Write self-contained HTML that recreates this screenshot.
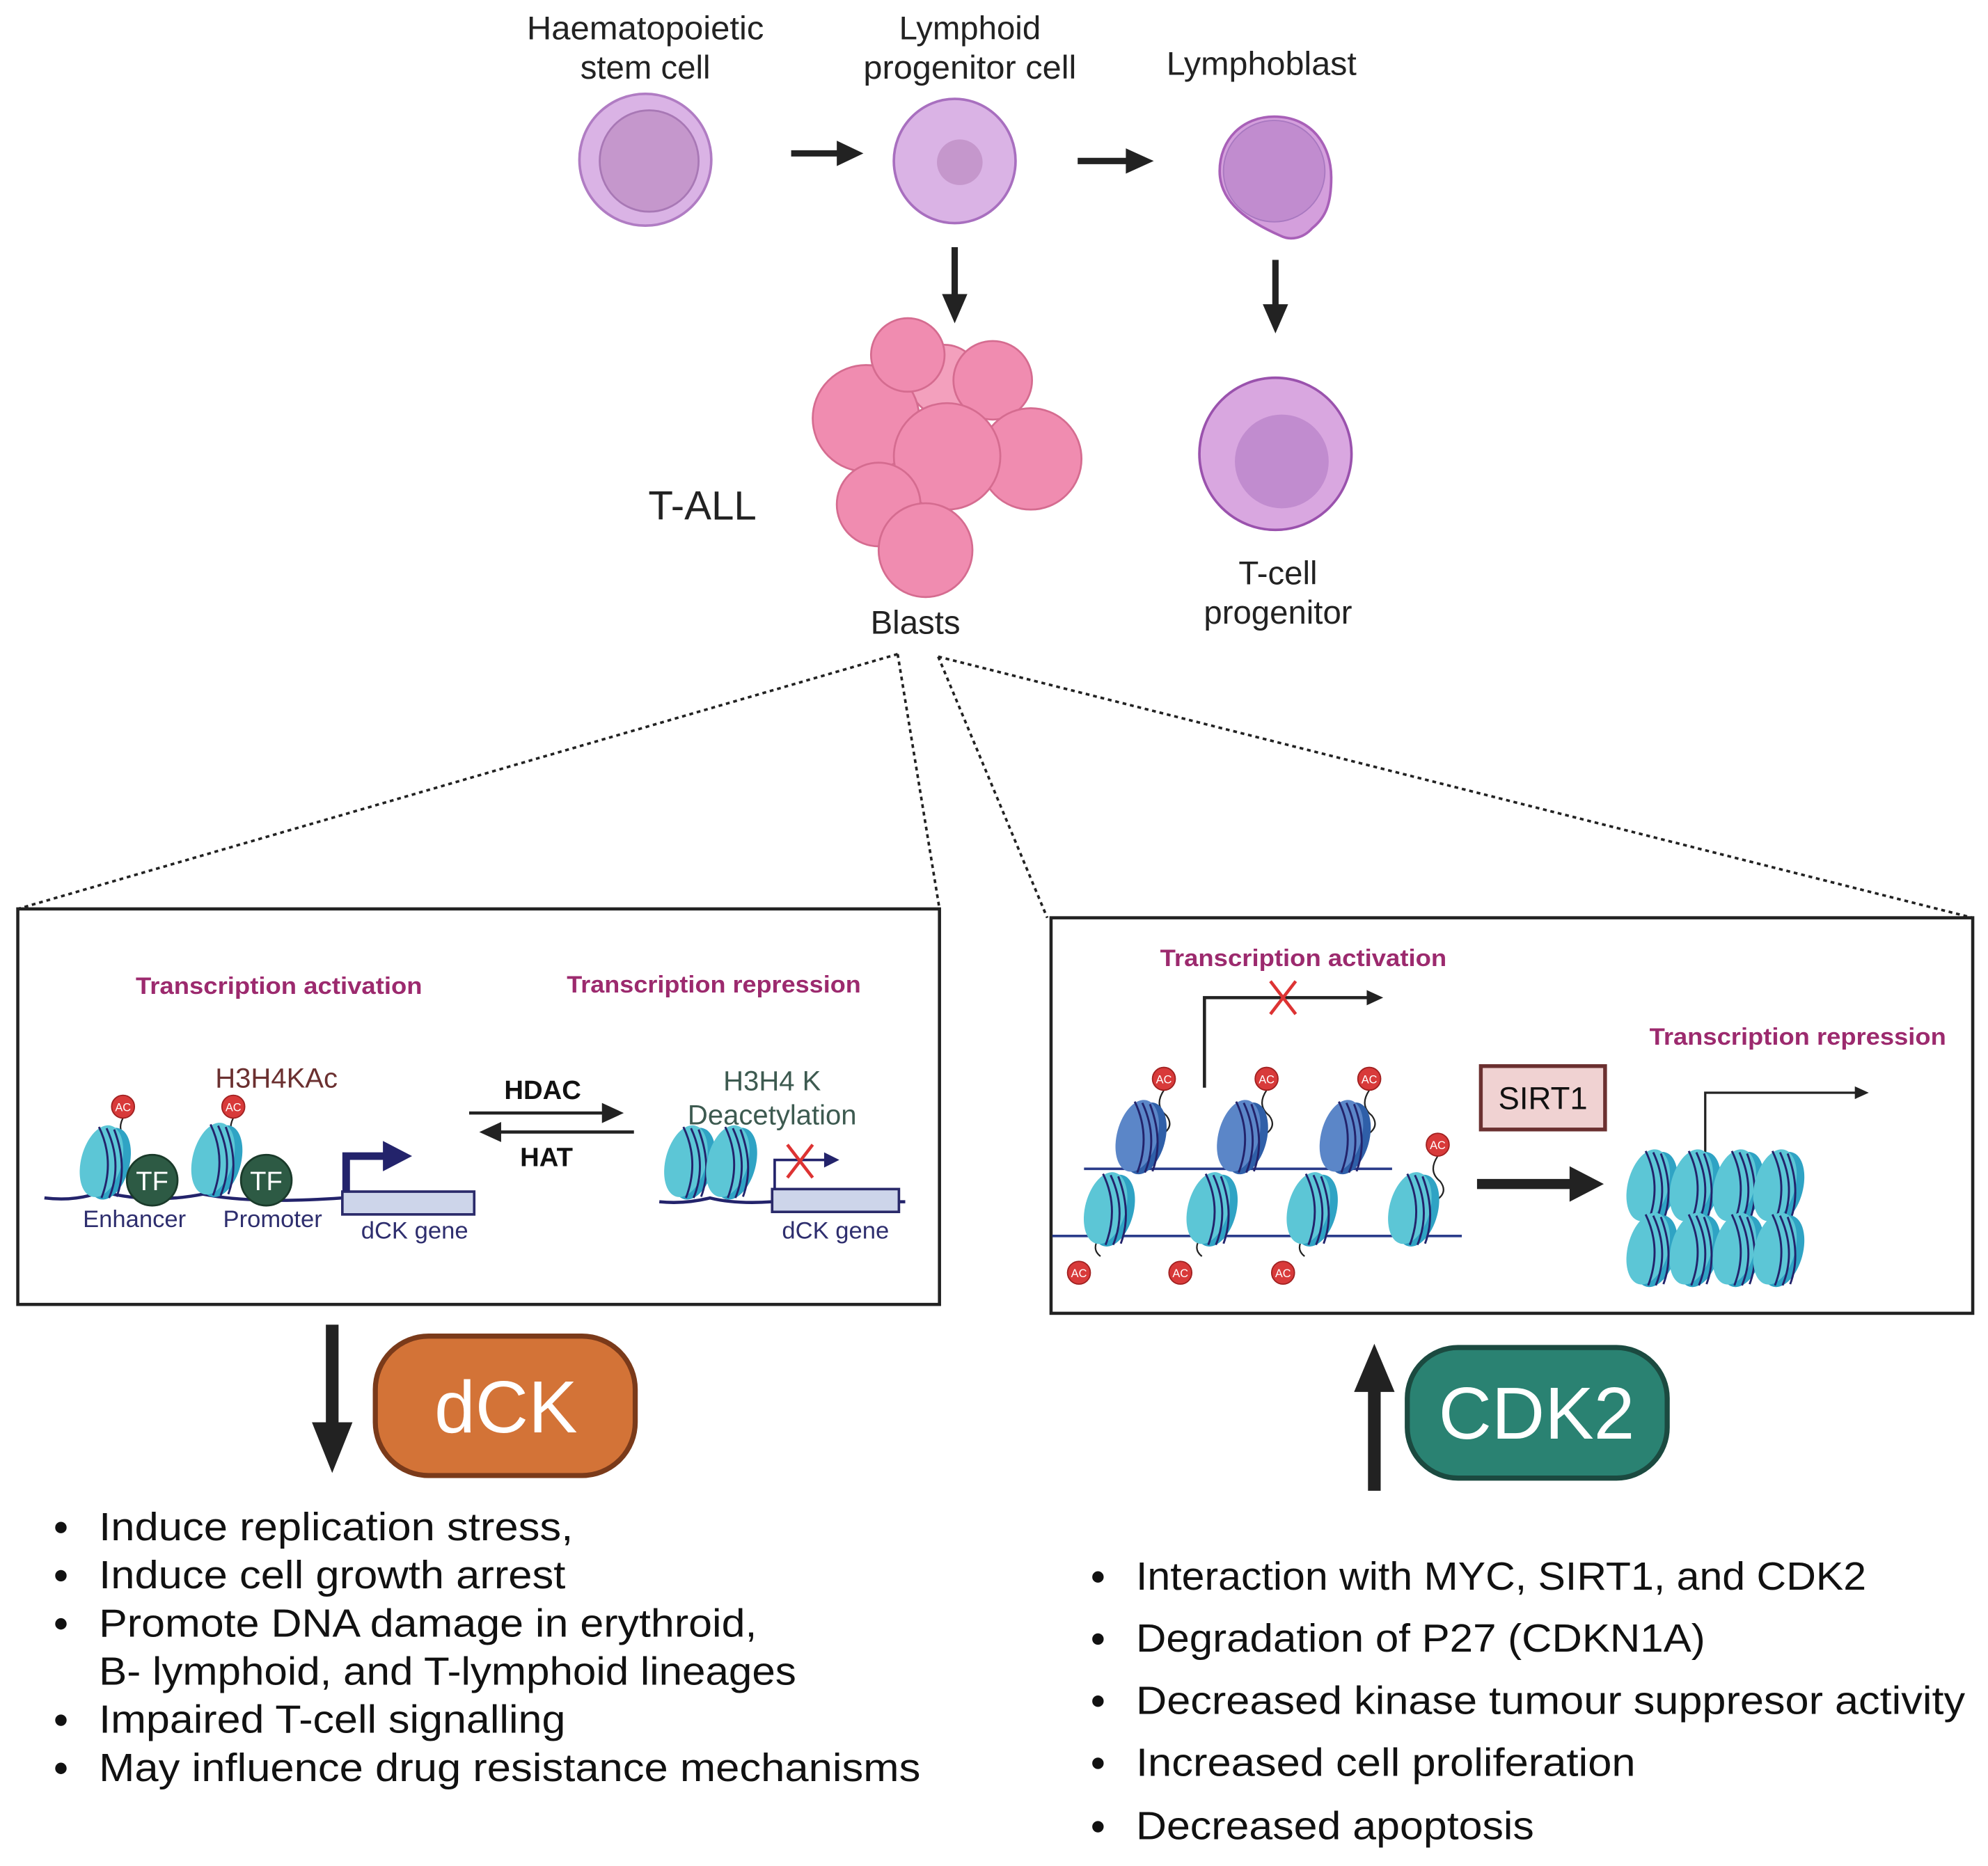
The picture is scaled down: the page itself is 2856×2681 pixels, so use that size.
<!DOCTYPE html>
<html><head><meta charset="utf-8"><style>html,body{margin:0;padding:0;background:#fff}svg{display:block}text{font-family:"Liberation Sans",sans-serif}</style></head>
<body>
<svg width="2856" height="2681" viewBox="0 0 1568 1472" xmlns="http://www.w3.org/2000/svg">
<defs>
<marker id="ah" markerWidth="4" markerHeight="4" refX="2" refY="2" orient="auto" markerUnits="strokeWidth"><path d="M0,0 L4,2 L0,4 Z" fill="#222"/></marker>
<g id="nuc">
<ellipse cx="6" cy="2" rx="16" ry="29" transform="rotate(15 6 2)" fill="#2fa3c4"/>
<ellipse cx="0" cy="0" rx="16" ry="29" transform="rotate(15)" fill="#5cc6d6"/>
<path d="M-2,-27 Q11,0 0,29 M4,-26 Q17,2 6,29 M10,-25 Q21,4 12,28" stroke="#23236b" stroke-width="1.6" fill="none"/>
</g>
<g id="nucd">
<ellipse cx="6" cy="2" rx="16" ry="29" transform="rotate(15 6 2)" fill="#2f5fa8"/>
<ellipse cx="0" cy="0" rx="16" ry="29" transform="rotate(15)" fill="#5b86c8"/>
<path d="M-2,-27 Q11,0 0,29 M4,-26 Q17,2 6,29 M10,-25 Q21,4 12,28" stroke="#23236b" stroke-width="1.6" fill="none"/>
</g>
<g id="ac"><circle r="9" fill="#d83a3a" stroke="#a02020" stroke-width="1"/><text y="3.5" font-size="9" fill="#fff" text-anchor="middle">AC</text></g>
</defs>

<!-- top labels -->
<g font-size="26" fill="#222" text-anchor="middle">
<text x="509" y="31" textLength="187" lengthAdjust="spacingAndGlyphs">Haematopoietic</text><text x="509" y="62">stem cell</text>
<text x="765" y="31">Lymphoid</text><text x="765" y="62" textLength="168" lengthAdjust="spacingAndGlyphs">progenitor cell</text>
<text x="995" y="59" textLength="150" lengthAdjust="spacingAndGlyphs">Lymphoblast</text>
<text x="1008" y="461">T-cell</text><text x="1008" y="492">progenitor</text>
<text x="722" y="500">Blasts</text>
<text x="554" y="410" font-size="32">T-ALL</text>
</g>

<!-- cells -->
<ellipse cx="509" cy="126" rx="52" ry="52" fill="#dab3e5" stroke="#b07cc3" stroke-width="2"/>
<ellipse cx="512" cy="127" rx="39" ry="40" fill="#c597cc" stroke="#a878b5" stroke-width="1.5"/>
<ellipse cx="753" cy="127" rx="48" ry="49" fill="#dab3e5" stroke="#a86fbf" stroke-width="2"/>
<circle cx="757" cy="128" r="18" fill="#c597cc"/>
<path d="M1005,92 C1035,92 1050,115 1050,140 C1050,162 1045,172 1035,180 C1028,188 1018,190 1010,186 C985,175 962,160 962,135 C962,110 980,92 1005,92Z" fill="#d49fdc" stroke="#a860b8" stroke-width="2"/>
<circle cx="1005" cy="135" r="40" fill="#c18ccf" stroke="#a878c0" stroke-width="1"/>
<circle cx="1006" cy="358" r="60" fill="#d9a7e0" stroke="#9a52ad" stroke-width="2"/>
<circle cx="1011" cy="364" r="37" fill="#c18ccf"/>

<!-- blasts -->
<g fill="#f08cb0" stroke="#d56c90" stroke-width="1.5">
<circle cx="745" cy="300" r="28" fill="#f3a0bd"/>
<circle cx="783" cy="300" r="31"/>
<circle cx="683" cy="330" r="42"/>
<circle cx="813" cy="362" r="40"/>
<circle cx="716" cy="280" r="29"/>
<circle cx="747" cy="360" r="42"/>
<circle cx="693" cy="398" r="33"/>
<circle cx="730" cy="434" r="37"/>
</g>

<!-- arrows top -->
<g stroke="#222" stroke-width="5" fill="none">
<line x1="624" y1="121" x2="664" y2="121"/>
<line x1="850" y1="127" x2="892" y2="127"/>
<line x1="753" y1="195" x2="753" y2="235"/>
<line x1="1006" y1="205" x2="1006" y2="244"/>
</g>
<g fill="#222">
<path d="M660,111 L681,121 L660,131Z"/>
<path d="M888,117 L910,127 L888,137Z"/>
<path d="M743,232 L753,255 L763,232Z"/>
<path d="M996,240 L1006,263 L1016,240Z"/>
</g>

<!-- dotted lines -->
<g stroke="#222" stroke-width="2" stroke-dasharray="3,3" fill="none">
<line x1="708" y1="516" x2="14" y2="717"/>
<line x1="708" y1="516" x2="741" y2="717"/>
<line x1="740" y1="518" x2="826" y2="724"/>
<line x1="740" y1="518" x2="1556" y2="724"/>
</g>

<!-- left box -->
<rect x="14" y="717" width="727" height="312" fill="none" stroke="#222" stroke-width="2.5"/>
<g font-size="19" font-weight="bold" fill="#9c2a6e" text-anchor="middle">
<text x="220" y="784" textLength="226" lengthAdjust="spacingAndGlyphs">Transcription activation</text>
<text x="563" y="783" textLength="232" lengthAdjust="spacingAndGlyphs">Transcription repression</text>
</g>
<text x="218" y="858" font-size="22" fill="#6b3030" text-anchor="middle">H3H4KAc</text>
<text x="428" y="867" font-size="21" font-weight="bold" fill="#111" text-anchor="middle">HDAC</text>
<text x="431" y="920" font-size="21" font-weight="bold" fill="#111" text-anchor="middle">HAT</text>
<g stroke="#222" stroke-width="2.5" fill="#222">
<line x1="370" y1="878" x2="478" y2="878"/><path d="M476,872 L489,878 L476,884Z"/>
<line x1="392" y1="893" x2="500" y2="893"/><path d="M394,887 L381,893 L394,899Z"/>
</g>
<text x="609" y="860" font-size="22" fill="#3d5a50" text-anchor="middle">H3H4 K</text>
<text x="609" y="887" font-size="22" fill="#3d5a50" text-anchor="middle">Deacetylation</text>
<path d="M35,945 Q60,948 80,940 Q120,950 160,942 Q200,950 270,945" stroke="#23236b" stroke-width="2.5" fill="none"/>
<path d="M98,880 q-6,10 0,16 q6,6 -2,14 M185,880 q-6,10 0,16 q6,6 -2,14" stroke="#222" stroke-width="1.2" fill="none"/>
<use href="#nuc" x="80" y="916"/>
<use href="#nuc" x="168" y="914"/>
<use href="#ac" x="97" y="873"/><use href="#ac" x="184" y="873"/>
<circle cx="120" cy="931" r="20" fill="#2d5a44" stroke="#1a3a2a" stroke-width="1.5"/>
<circle cx="210" cy="931" r="20" fill="#2d5a44" stroke="#1a3a2a" stroke-width="1.5"/>
<text x="120" y="939" font-size="21" fill="#fff" text-anchor="middle">TF</text>
<text x="210" y="939" font-size="21" fill="#fff" text-anchor="middle">TF</text>
<text x="106" y="968" font-size="19" fill="#2e2e6e" text-anchor="middle">Enhancer</text>
<text x="215" y="968" font-size="19" fill="#2e2e6e" text-anchor="middle">Promoter</text>
<rect x="270" y="940" width="104" height="18" fill="#cdd5ea" stroke="#2a2a6a" stroke-width="2"/>
<path d="M273,940 L273,912 L305,912" stroke="#23236b" stroke-width="6" fill="none"/>
<path d="M302,900 L325,912 L302,924Z" fill="#23236b"/>
<text x="327" y="977" font-size="19" fill="#2e2e6e" text-anchor="middle">dCK gene</text>
<path d="M520,948 Q540,950 560,945 Q580,950 609,948 M709,948 L714,948" stroke="#23236b" stroke-width="2.5" fill="none"/>
<use href="#nuc" x="541" y="916"/><use href="#nuc" x="574" y="916"/>
<rect x="609" y="938" width="100" height="18" fill="#cdd5ea" stroke="#2a2a6a" stroke-width="2"/>
<path d="M611,938 L611,915 L652,915" stroke="#23236b" stroke-width="2" fill="none"/>
<path d="M650,909 L662,915 L650,921Z" fill="#23236b"/>
<path d="M621,903 L641,929 M641,903 L621,929" stroke="#d33" stroke-width="2.5"/>
<text x="659" y="977" font-size="19" fill="#2e2e6e" text-anchor="middle">dCK gene</text>

<!-- right box -->
<rect x="829" y="724" width="727" height="312" fill="none" stroke="#222" stroke-width="2.5"/>
<g font-size="19" font-weight="bold" fill="#9c2a6e" text-anchor="middle">
<text x="1028" y="762" textLength="226" lengthAdjust="spacingAndGlyphs">Transcription activation</text>
<text x="1418" y="824" textLength="234" lengthAdjust="spacingAndGlyphs">Transcription repression</text>
</g>
<path d="M950,858 L950,787 L1080,787" stroke="#222" stroke-width="2.5" fill="none"/>
<path d="M1078,781 L1091,787 L1078,793Z" fill="#222"/>
<path d="M1002,774 L1022,800 M1022,774 L1002,800" stroke="#d33" stroke-width="2.5"/>
<rect x="1168" y="841" width="98" height="50" fill="#f0d2d2" stroke="#6b3030" stroke-width="3"/>
<text x="1217" y="875" font-size="25" fill="#111" text-anchor="middle">SIRT1</text>
<line x1="1165" y1="934" x2="1240" y2="934" stroke="#222" stroke-width="8"/>
<path d="M1238,920 L1265,934 L1238,948Z" fill="#222"/>
<path d="M1345,912 L1345,862 L1465,862" stroke="#222" stroke-width="1.8" fill="none"/>
<path d="M1463,857 L1474,862 L1463,867Z" fill="#222"/>
<path d="M855,922 L1098,922 M830,975 L1153,975" stroke="#2a3c8a" stroke-width="2" fill="none"/>
<g stroke="#222" stroke-width="1.2" fill="none">
<path d="M918,860 q-8,12 2,20 q6,8 -2,14 M999,860 q-8,12 2,20 q6,8 -2,14 M1080,860 q-8,12 2,20 q6,8 -2,14 M1134,912 q-8,12 2,20 q6,8 -2,14"/>
<path d="M868,975 q-8,10 0,16 M948,975 q-8,10 0,16 M1029,975 q-8,10 0,16"/>
</g>
<use href="#nucd" x="897" y="896"/><use href="#nucd" x="977" y="896"/><use href="#nucd" x="1058" y="896"/>
<use href="#nuc" x="872" y="953"/><use href="#nuc" x="953" y="953"/><use href="#nuc" x="1032" y="953"/><use href="#nuc" x="1112" y="953"/>
<use href="#ac" x="918" y="851"/><use href="#ac" x="999" y="851"/><use href="#ac" x="1080" y="851"/><use href="#ac" x="1134" y="903"/>
<use href="#ac" x="851" y="1004"/><use href="#ac" x="931" y="1004"/><use href="#ac" x="1012" y="1004"/>
<use href="#nuc" x="1300" y="935"/><use href="#nuc" x="1334" y="935"/><use href="#nuc" x="1368" y="935"/><use href="#nuc" x="1400" y="935"/>
<use href="#nuc" x="1300" y="985"/><use href="#nuc" x="1334" y="985"/><use href="#nuc" x="1368" y="985"/><use href="#nuc" x="1400" y="985"/>

<!-- bottom -->
<line x1="262" y1="1045" x2="262" y2="1125" stroke="#222" stroke-width="10"/>
<path d="M246,1122 L278,1122 L262,1162Z" fill="#222"/>
<rect x="296" y="1054" width="205" height="110" rx="42" fill="#d37337" stroke="#7a3a1a" stroke-width="4"/>
<text x="399" y="1130" font-size="58" fill="#fff" text-anchor="middle">dCK</text>
<line x1="1084" y1="1176" x2="1084" y2="1095" stroke="#222" stroke-width="10"/>
<path d="M1068,1098 L1100,1098 L1084,1060Z" fill="#222"/>
<rect x="1110" y="1063" width="205" height="103" rx="40" fill="#2a8272" stroke="#1b4a40" stroke-width="4"/>
<text x="1212" y="1135" font-size="58" fill="#fff" text-anchor="middle">CDK2</text>

<g font-size="31" fill="#111">
<g fill="#111"><circle cx="48" cy="1205" r="4.5"/><circle cx="48" cy="1243" r="4.5"/><circle cx="48" cy="1281" r="4.5"/><circle cx="48" cy="1357" r="4.5"/><circle cx="48" cy="1395" r="4.5"/>
<circle cx="866" cy="1244" r="4.5"/><circle cx="866" cy="1293" r="4.5"/><circle cx="866" cy="1342" r="4.5"/><circle cx="866" cy="1391" r="4.5"/><circle cx="866" cy="1441" r="4.5"/></g>
<text x="78" y="1215" textLength="374" lengthAdjust="spacingAndGlyphs">Induce replication stress,</text>
<text x="78" y="1253" textLength="368" lengthAdjust="spacingAndGlyphs">Induce cell growth arrest</text>
<text x="78" y="1291" textLength="519" lengthAdjust="spacingAndGlyphs">Promote DNA damage in erythroid,</text>
<text x="78" y="1329" textLength="550" lengthAdjust="spacingAndGlyphs">B- lymphoid, and T-lymphoid lineages</text>
<text x="78" y="1367" textLength="368" lengthAdjust="spacingAndGlyphs">Impaired T-cell signalling</text>
<text x="78" y="1405" textLength="648" lengthAdjust="spacingAndGlyphs">May influence drug resistance mechanisms</text>
<text x="896" y="1254" textLength="576" lengthAdjust="spacingAndGlyphs">Interaction with MYC, SIRT1, and CDK2</text>
<text x="896" y="1303" textLength="449" lengthAdjust="spacingAndGlyphs">Degradation of P27 (CDKN1A)</text>
<text x="896" y="1352" textLength="654" lengthAdjust="spacingAndGlyphs">Decreased kinase tumour suppresor activity</text>
<text x="896" y="1401" textLength="394" lengthAdjust="spacingAndGlyphs">Increased cell proliferation</text>
<text x="896" y="1451" textLength="314" lengthAdjust="spacingAndGlyphs">Decreased apoptosis</text>
</g>
</svg>
</body></html>
